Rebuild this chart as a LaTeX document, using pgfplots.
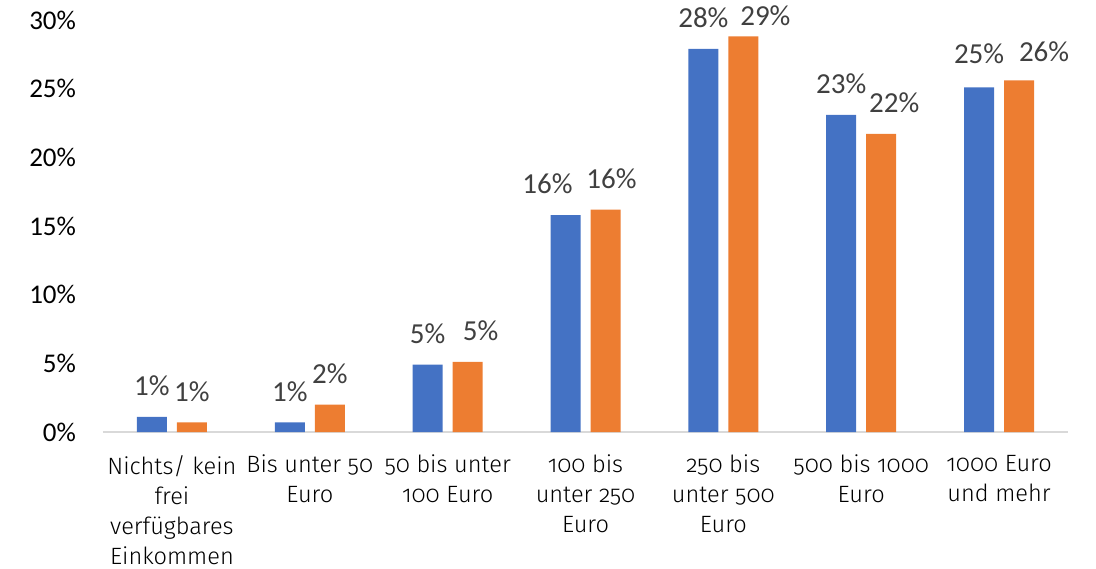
\documentclass[border=0pt]{standalone}
\usepackage{fontspec}
\setmainfont{Carlito}
\newfontfamily\catfont[Numbers=OldStyle]{Fira Sans Light}
\usepackage{pgfplots}
\usepackage{pgfplotstable}
\pgfplotsset{compat=1.18}
\definecolor{cblue}{HTML}{4472C4}
\definecolor{corange}{HTML}{ED7D31}
\definecolor{lblgray}{HTML}{404040}
\definecolor{axgray}{HTML}{D9D9D9}

% x value dx dy  (dx, dy: label offsets in pt)
\pgfplotstableread{
x y dx dy
0 1.1 0 0
1 0.7 0 0
2 4.9 0 0
3 15.8 -9 0
4 27.9 0 0
5 23.1 0 0
6 25.1 0 1
}\blue
\pgfplotstableread{
x y dx dy
0 0.7 0 0
1 2.0 0 0
2 5.1 6.5 0
3 16.2 3 0
4 28.8 11 -5
5 21.7 6.5 0
6 25.6 12.5 -1
}\orange

\begin{document}
\begin{tikzpicture}
  \useasboundingbox (-51.5pt,-68pt) rectangle (496.5pt,216pt);
  \begin{axis}[
      scale only axis,
      width=482.5pt,
      height=206pt,
      xmin=-0.5, xmax=6.5,
      ymin=0, ymax=30,
      ybar=5pt,
      bar width=15pt,
      axis x line*=bottom,
      axis y line*=left,
      y axis line style={draw=none},
      x axis line style={draw=axgray, line width=0.8pt},
      major tick length=0pt,
      xtick={0,1,2,3,4,5,6},
      xticklabels={
        {Nichts/ kein\\frei\\verfügbares\\Einkommen},
        {Bis unter 50\\Euro},
        {50 bis unter\\100 Euro},
        {100 bis\\unter 250\\Euro},
        {250 bis\\unter 500\\Euro},
        {500 bis 1000\\Euro},
        {1000 Euro\\und mehr}},
      xticklabel style={align=center, font=\fontsize{11.8pt}{15pt}\selectfont\catfont, text=black, yshift=-8pt},
      ytick={0,5,...,30},
      yticklabel={\pgfmathprintnumber{\tick}\%},
      /pgf/number format/assume math mode=true,
      y tick label style={font=\fontsize{13.5pt}{15pt}\selectfont, text=black, xshift=-10pt},
      clip=false,
      visualization depends on={\thisrow{dx} \as \dx},
      visualization depends on={\thisrow{dy} \as \dy},
      nodes near coords={\pgfmathprintnumber[fixed,precision=0]{\pgfplotspointmeta}\%},
      every node near coord/.append style={font=\fontsize{14.5pt}{16pt}\selectfont, text=lblgray, anchor=south, yshift=7pt+\dy pt, xshift=\dx pt},
    ]
    \addplot[fill=cblue, draw=none] table[x=x, y=y] {\blue};
    \addplot[fill=corange, draw=none] table[x=x, y=y] {\orange};
  \end{axis}
\end{tikzpicture}
\end{document}
